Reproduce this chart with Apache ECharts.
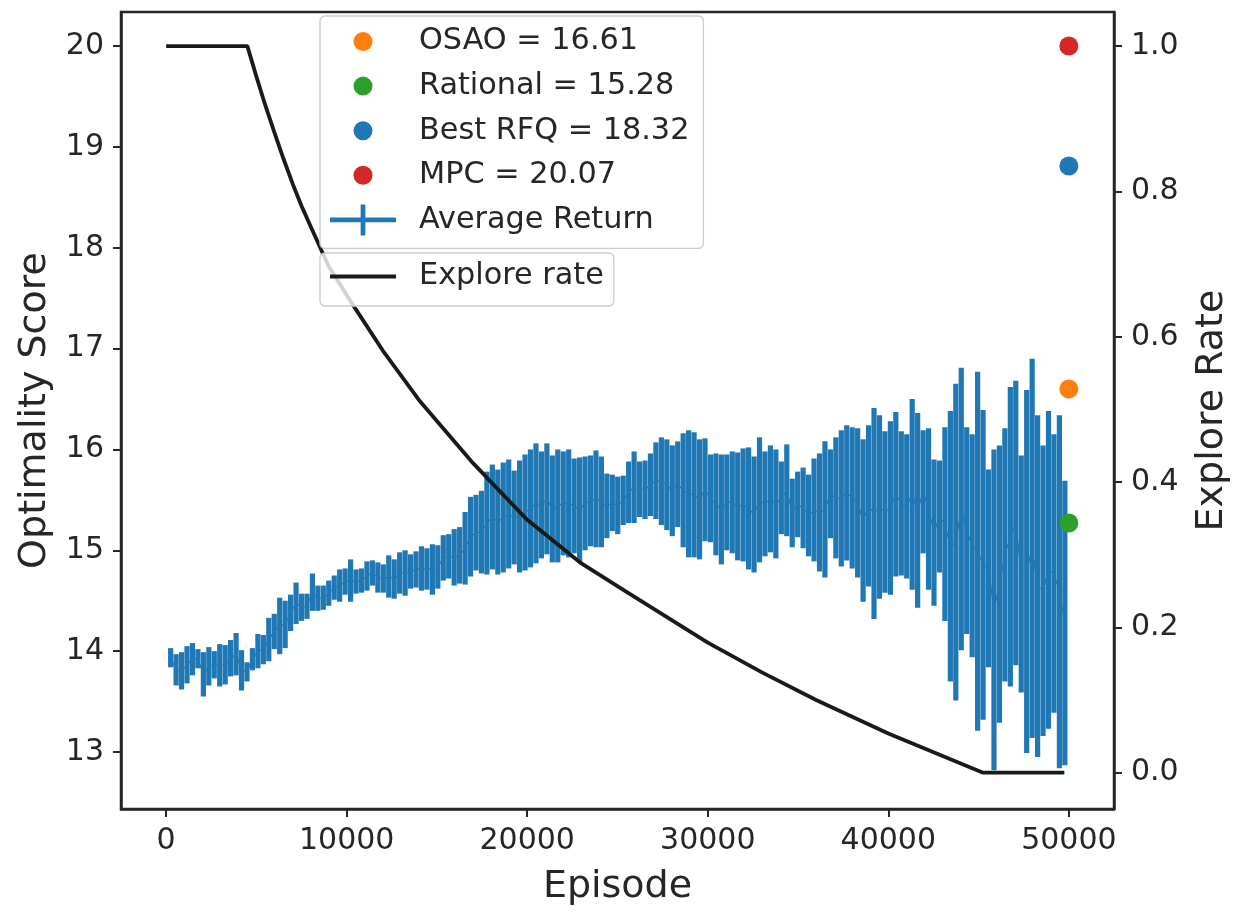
<!DOCTYPE html>
<html>
<head>
<meta charset="utf-8">
<script src="https://cdn.jsdelivr.net/npm/echarts@6/dist/echarts.min.js"></script>
<style>
html,body{margin:0;padding:0;background:#ffffff;}
#chart{width:1240px;height:911px;}
</style>
</head>
<body>
<div id="chart"></div>
<script>
// ---------------- data ----------------
// Average-return samples: first episode and spacing of the evaluation points
const EPISODE_START = 250;
const EPISODE_STEP = 302;

// upper end of each error bar (mean + std)
const returnHigh = [
  14.03,13.97,13.99,14.05,14.08,14.02,13.99,14.04,14.00,14.07,
  14.06,14.11,14.18,14.01,13.89,14.03,14.17,14.16,14.33,14.37,
  14.53,14.50,14.56,14.68,14.57,14.57,14.77,14.65,14.65,14.70,
  14.75,14.81,14.82,14.91,14.81,14.82,14.89,14.90,14.88,14.86,
  14.95,14.91,14.98,15.00,14.96,14.99,15.04,15.02,15.06,15.05,
  15.15,15.16,15.21,15.23,15.38,15.53,15.55,15.59,15.78,15.85,
  15.80,15.87,15.90,15.79,15.89,15.95,16.00,16.06,15.98,16.06,
  15.94,16.00,15.98,16.00,15.91,15.92,15.93,15.94,15.99,15.93,
  15.76,15.75,15.73,15.74,15.88,15.98,15.88,15.89,15.96,16.07,
  16.12,16.10,16.04,16.08,16.16,16.19,16.17,16.10,16.11,15.95,
  15.96,15.95,15.95,15.98,15.97,16.01,16.02,15.93,16.12,15.98,
  16.04,16.00,15.88,16.05,15.71,15.78,15.82,15.75,15.91,15.96,
  16.08,16.00,16.12,16.19,16.24,16.22,16.21,16.10,16.24,16.41,
  16.34,16.18,16.28,16.37,16.18,16.15,16.50,16.36,16.19,16.21,
  15.90,15.89,16.22,16.38,16.65,16.81,16.22,16.15,16.77,16.39,
  15.80,16.00,16.04,16.21,16.62,16.68,15.94,16.59,16.90,16.34,
  16.04,16.38,16.15,16.34,15.69
];
// lower end of each error bar (mean - std)
const returnLow = [
  13.84,13.66,13.62,13.68,13.76,13.83,13.55,13.66,13.73,13.65,
  13.67,13.75,13.76,13.61,13.70,13.81,13.83,13.87,13.90,14.02,
  13.97,14.03,14.20,14.27,14.30,14.32,14.40,14.40,14.41,14.45,
  14.51,14.49,14.56,14.49,14.57,14.58,14.60,14.65,14.58,14.58,
  14.53,14.52,14.57,14.55,14.62,14.63,14.60,14.61,14.56,14.62,
  14.70,14.72,14.65,14.67,14.66,14.74,14.80,14.77,14.76,14.81,
  14.76,14.78,14.82,14.86,14.78,14.80,14.83,14.87,14.92,14.96,
  14.88,14.88,14.95,14.93,14.97,14.88,15.00,15.04,15.03,15.03,
  15.12,15.19,15.16,15.25,15.27,15.27,15.33,15.31,15.34,15.31,
  15.25,15.20,15.14,15.23,15.03,14.93,14.93,14.91,15.09,15.08,
  14.95,14.86,15.00,14.97,14.90,14.89,14.81,14.78,14.88,14.94,
  14.98,14.92,15.16,15.14,15.03,15.13,15.02,14.94,14.89,14.79,
  14.73,15.12,14.92,14.84,14.90,14.82,14.73,14.49,14.64,14.32,
  14.52,14.58,14.56,14.74,14.75,14.72,14.61,14.43,14.97,14.61,
  14.45,14.78,14.30,13.70,13.51,14.01,14.17,13.94,13.21,13.32,
  13.84,12.82,13.29,13.70,13.65,13.86,13.59,12.99,13.14,12.95,
  13.16,13.23,13.39,12.84,12.87
];

// explore-rate schedule (right axis)
const exploreEpisode = [0,4500,5000,5500,6000,6500,7000,7500,8000,9000,10500,12000,14000,17000,20000,23000,25500,30000,33000,36000,40000,45250,49750];
const exploreRate    = [1.0,1.0,0.958,0.918,0.881,0.845,0.811,0.780,0.752,0.697,0.638,0.581,0.513,0.426,0.348,0.288,0.249,0.179,0.138,0.100,0.054,0.0,0.0];

// baseline scores (left axis), drawn at the final episode
const baselineNames   = ['OSAO = 16.61','Rational = 15.28','Best RFQ = 18.32','MPC = 20.07'];
const baselineEpisode = 50000;
const baselineScore   = [16.60, 15.27, 18.81, 20.00];

// tick labels
const xTicks      = [0,10000,20000,30000,40000,50000];
const yLeftTicks  = [13,14,15,16,17,18,19,20];
const yRightTicks = [0,0.2,0.4,0.6,0.8,1.0];

// ---------------- styles ----------------
const FONT = 'DejaVu Sans';
const INK = '#262626';
const BLUE = '#1f77b4';
const baselineColors = ['#ff7f0e','#2ca02c','#1f77b4','#d62728'];
const BAR_W = 5.2;

const CIRCLE_ICON = 'path://M0,0M66,31M23.5,15.5a9.5,9.5 0 1,0 19,0a9.5,9.5 0 1,0 -19,0Z';
const ERRBAR_ICON = 'path://M0,0M66,31M0,13.15H66V17.85H0ZM30.65,0H35.35V31H30.65Z';
const LINE_ICON   = 'path://M0,0M66,31M0,13.4H66V17.6H0Z';

const errData = returnHigh.map((h, i) => [EPISODE_START + EPISODE_STEP * i, returnLow[i], h]);
const meanData = errData.map(d => [d[0], (d[1] + d[2]) / 2]);
const exploreData = exploreEpisode.map((e, i) => [e, exploreRate[i]]);

const axisLineStyle = { show: true, onZero: false, lineStyle: { color: INK, width: 2.5 } };
const tickStyle = { show: true, inside: false, length: 8, lineStyle: { color: INK, width: 2 } };
const labelStyle = { fontFamily: FONT, fontSize: 30, color: INK, margin: 17 };
const nameStyle = { fontFamily: FONT, fontSize: 38, color: INK };

const legendCommon = {
  orient: 'vertical',
  left: 320,
  itemWidth: 66,
  itemHeight: 31,
  itemGap: 13.6,
  backgroundColor: 'rgba(255,255,255,0.8)',
  borderColor: '#cccccc',
  borderWidth: 1.3,
  borderRadius: 5,
  selectedMode: false,
  itemStyle: { borderWidth: 0 },
  textStyle: { fontFamily: FONT, fontSize: 30.3, color: INK, padding: [0, 0, 0, 18] },
  z: 10
};

const series = [
  {
    name: 'Average Return (mean)',
    type: 'line',
    data: meanData,
    xAxisIndex: 0, yAxisIndex: 0,
    symbol: 'none',
    lineStyle: { color: BLUE, width: 1.2 },
    itemStyle: { color: BLUE },
    z: 1, silent: true
  },
  {
    name: 'Average Return',
    type: 'custom',
    data: errData,
    xAxisIndex: 0, yAxisIndex: 0,
    encode: { x: 0, y: [1, 2] },
    itemStyle: { color: BLUE },
    clip: true,
    z: 2, silent: true,
    renderItem: function (params, api) {
      const x = api.value(0);
      const top = api.coord([x, api.value(2)]);
      const bot = api.coord([x, api.value(1)]);
      return {
        type: 'rect',
        shape: { x: top[0] - BAR_W / 2, y: top[1], width: BAR_W, height: bot[1] - top[1] },
        style: { fill: api.visual('color') }
      };
    }
  },
  {
    name: 'Explore rate',
    type: 'line',
    data: exploreData,
    xAxisIndex: 0, yAxisIndex: 1,
    symbol: 'none',
    smooth: false,
    lineStyle: { color: '#1a1a1a', width: 3.8 },
    itemStyle: { color: '#1a1a1a' },
    z: 3, silent: true
  }
];
baselineNames.forEach((n, i) => {
  series.push({
    name: n,
    type: 'scatter',
    data: [[baselineEpisode, baselineScore[i]]],
    xAxisIndex: 0, yAxisIndex: 0,
    symbol: 'circle',
    symbolSize: 19,
    itemStyle: { color: baselineColors[i], opacity: 1 },
    z: 4, silent: true
  });
});

const option = {
  animation: false,
  backgroundColor: '#ffffff',
  grid: {
    left: 121, top: 12, right: 126, bottom: 102,
    show: true, borderColor: INK, borderWidth: 2.5, backgroundColor: 'transparent'
  },
  legend: [
    Object.assign({}, legendCommon, {
      top: 16,
      padding: [10, 14, 13, 10],
      data: [
        { name: baselineNames[0], icon: CIRCLE_ICON },
        { name: baselineNames[1], icon: CIRCLE_ICON },
        { name: baselineNames[2], icon: CIRCLE_ICON },
        { name: baselineNames[3], icon: CIRCLE_ICON },
        { name: 'Average Return', icon: ERRBAR_ICON }
      ]
    }),
    Object.assign({}, legendCommon, {
      top: 253,
      padding: [8, 10, 14, 10],
      data: [{ name: 'Explore rate', icon: LINE_ICON }]
    })
  ],
  xAxis: [{
    type: 'value',
    min: -2500, max: 52500,
    name: 'Episode', nameLocation: 'middle', nameGap: 59, nameTextStyle: nameStyle,
    axisLine: axisLineStyle,
    axisTick: Object.assign({}, tickStyle, { customValues: xTicks }),
    axisLabel: Object.assign({}, labelStyle, { customValues: xTicks, formatter: v => String(v) }),
    splitLine: { show: false }
  }],
  yAxis: [{
    type: 'value',
    position: 'left',
    min: 12.435, max: 20.337,
    name: 'Optimality Score', nameLocation: 'middle', nameGap: 67, nameRotate: 90, nameTextStyle: nameStyle,
    axisLine: axisLineStyle,
    axisTick: Object.assign({}, tickStyle, { customValues: yLeftTicks }),
    axisLabel: Object.assign({}, labelStyle, { customValues: yLeftTicks, formatter: v => String(Math.round(v)) }),
    splitLine: { show: false }
  }, {
    type: 'value',
    position: 'right',
    min: -0.05, max: 1.047,
    name: 'Explore Rate', nameLocation: 'middle', nameGap: 79, nameRotate: 90, nameTextStyle: nameStyle,
    axisLine: axisLineStyle,
    axisTick: Object.assign({}, tickStyle, { customValues: yRightTicks }),
    axisLabel: Object.assign({}, labelStyle, { customValues: yRightTicks, formatter: v => v.toFixed(1) }),
    splitLine: { show: false }
  }],
  series: series
};

const chart = echarts.init(document.getElementById('chart'), null, { renderer: 'canvas' });
chart.setOption(option);
</script>
</body>
</html>
